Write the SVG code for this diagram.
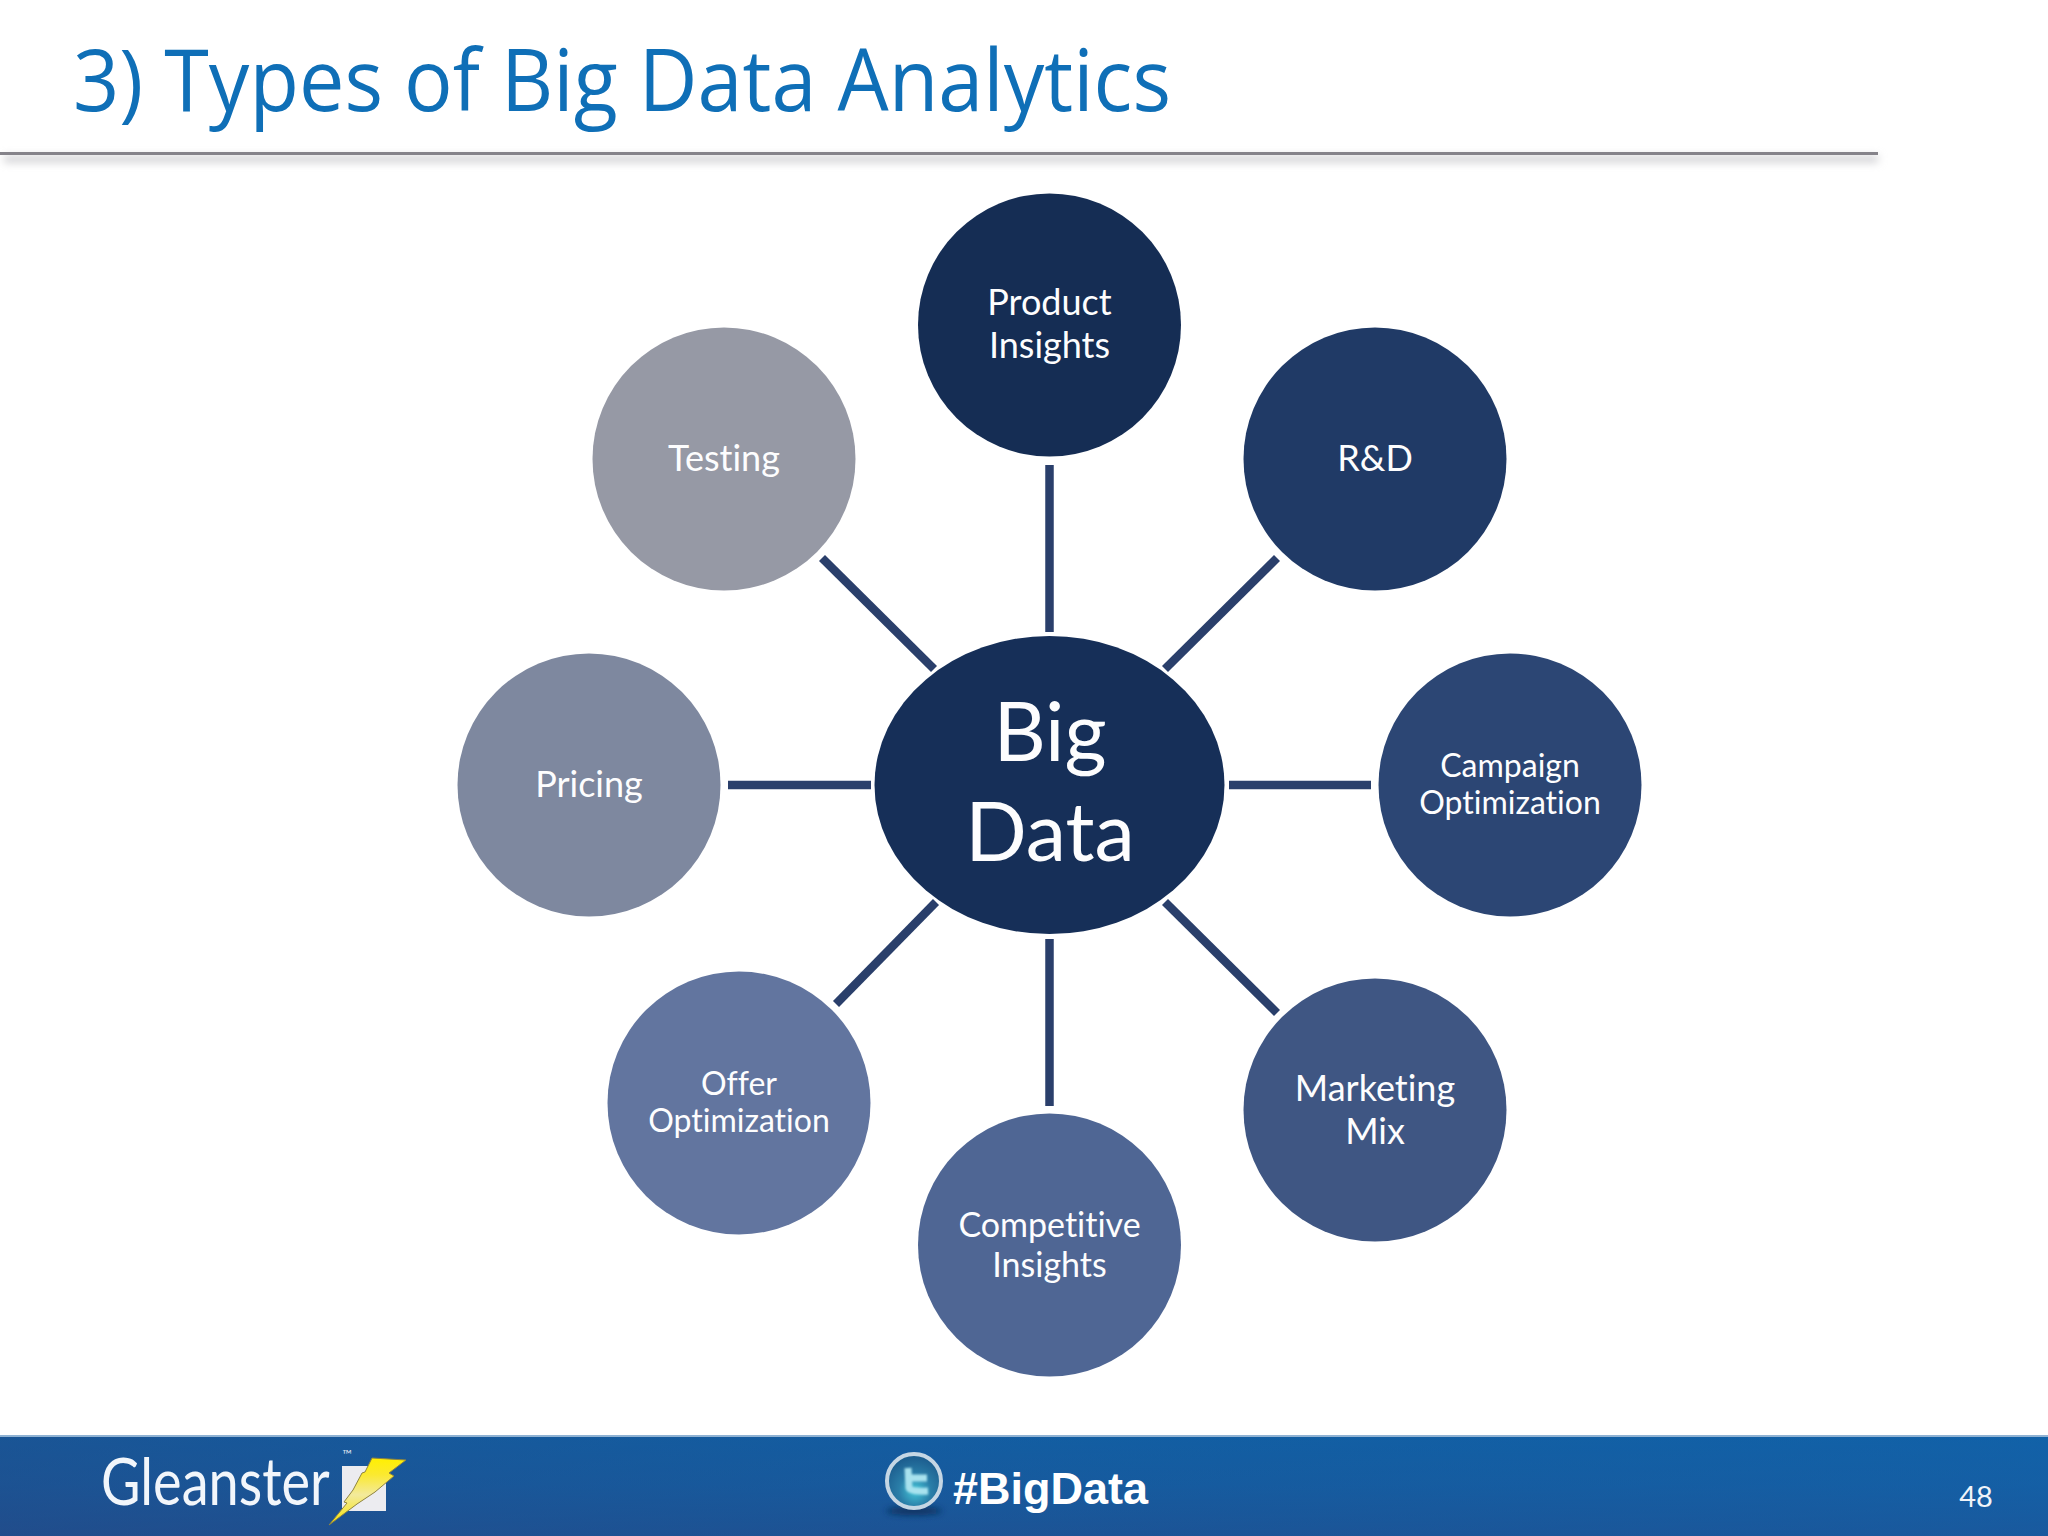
<svg xmlns="http://www.w3.org/2000/svg" width="2048" height="1536" viewBox="0 0 2048 1536">
<style>
text{font-family:"Lato","Open Sans","Liberation Sans",sans-serif;text-anchor:middle;fill:#fdfdfe;font-variant-ligatures:none}
.n{font-size:36px}
.s{font-size:32px}
.h{font-size:81px}
.c{stroke:#2a3f6b;stroke-width:8.5;fill:none}
</style>
<defs>
<linearGradient id="foot" x1="0" y1="0" x2="0" y2="1"><stop offset="0" stop-color="#145a9c"/><stop offset="0.5" stop-color="#1a5596"/><stop offset="1" stop-color="#234a88"/></linearGradient>
<linearGradient id="foot2" x1="0" y1="0" x2="1" y2="0"><stop offset="0" stop-color="#1f4f8e" stop-opacity=".5"/><stop offset="0.55" stop-color="#0f65ae" stop-opacity=".35"/><stop offset="1" stop-color="#0f69b4" stop-opacity=".5"/></linearGradient>
<linearGradient id="bolt" x1="0" y1="0" x2="0" y2="1"><stop offset="0" stop-color="#fff000"/><stop offset="0.25" stop-color="#fbe930"/><stop offset="0.55" stop-color="#f3ea9c"/><stop offset="1" stop-color="#f7e400"/></linearGradient>
<radialGradient id="tw" cx=".52" cy=".68" r=".6"><stop offset="0" stop-color="#46c6d8"/><stop offset="0.5" stop-color="#2a7ea8"/><stop offset="1" stop-color="#1d5f90"/></radialGradient>
<filter id="blur" x="-5%" y="-400%" width="110%" height="900%"><feGaussianBlur stdDeviation="4"/></filter>
<filter id="b2" x="-30%" y="-100%" width="160%" height="300%"><feGaussianBlur stdDeviation="3"/></filter>
<filter id="b1" x="-30%" y="-30%" width="160%" height="160%"><feGaussianBlur stdDeviation="1.2"/></filter>
</defs>
<rect width="2048" height="1536" fill="#fff"/>
<g id="header">
<rect x="4" y="156" width="1874" height="6" fill="#c8c8cc" filter="url(#blur)"/>
<rect x="0" y="152" width="1878" height="3" fill="#85838a"/>
<text x="73" y="111" style="text-anchor:start;fill:#0f6fb7;font-size:86px;font-family:'Open Sans',sans-serif" textLength="1098" lengthAdjust="spacingAndGlyphs">3) Types of Big Data Analytics</text>
</g>
<g id="connectors">
<line class="c" x1="1049.5" y1="465" x2="1049.5" y2="632"/>
<line class="c" x1="1049.5" y1="939" x2="1049.5" y2="1106"/>
<line class="c" x1="728" y1="785" x2="871" y2="785"/>
<line class="c" x1="1229" y1="785" x2="1371" y2="785"/>
<line class="c" x1="1165" y1="669" x2="1277" y2="558"/>
<line class="c" x1="1165" y1="902" x2="1277" y2="1013"/>
<line class="c" x1="936" y1="902" x2="836" y2="1004"/>
<line class="c" x1="934" y1="669" x2="822" y2="558"/>
</g>
<g id="center"><ellipse cx="1049.5" cy="785" rx="175" ry="149" fill="#162f58"/>
<text class="h" x="1050" y="761">Big</text><text class="h" x="1050" y="861">Data</text></g>
<g id="product"><circle cx="1049.5" cy="325" r="131.5" fill="#152d54"/><text class="n" x="1049.5" y="314.5">Product</text><text class="n" x="1049.5" y="358">Insights</text></g>
<g id="rd"><circle cx="1375" cy="459" r="131.5" fill="#203a66"/><text class="n" x="1375" y="471">R&amp;D</text></g>
<g id="campaign"><circle cx="1510" cy="785" r="131.5" fill="#2c4674"/><text class="s" x="1510" y="777">Campaign</text><text class="s" x="1510" y="814">Optimization</text></g>
<g id="marketing"><circle cx="1375" cy="1110" r="131.5" fill="#3f5683"/><text class="n" x="1375" y="1101">Marketing</text><text class="n" x="1375" y="1144">Mix</text></g>
<g id="competitive"><circle cx="1049.5" cy="1245" r="131.5" fill="#4f6694"/><text class="n" x="1049.5" y="1237" style="font-size:34px">Competitive</text><text class="n" x="1049.5" y="1277" style="font-size:34px">Insights</text></g>
<g id="offer"><circle cx="739" cy="1103" r="131.5" fill="#62759f"/><text class="s" x="739" y="1095">Offer</text><text class="s" x="739" y="1132">Optimization</text></g>
<g id="pricing"><circle cx="589" cy="785" r="131.5" fill="#7e889f"/><text class="n" x="589" y="797">Pricing</text></g>
<g id="testing"><circle cx="724" cy="459" r="131.5" fill="#9699a5"/><text class="n" x="724" y="471">Testing</text></g>
<g id="footer">
<rect y="1436" width="2048" height="100" fill="url(#foot)"/>
<rect y="1436" width="2048" height="100" fill="url(#foot2)"/>
<rect y="1435" width="2048" height="2" fill="#8fb2d3"/>
<text transform="translate(101 1505) scale(.82 1)" style="text-anchor:start;font-size:66px;fill:#f2f6fb">Gleanster</text>
<text x="342" y="1459" style="text-anchor:start;font-size:13px;fill:#d5dfeb">™</text>
<rect x="342" y="1466" width="44" height="45" fill="#ececf0"/>
<polygon points="372,1458 406,1460 389,1473 394,1476 375,1492 357,1504 329,1525 347,1503 344,1502 353,1490 362,1473 365,1472" fill="url(#bolt)" stroke="#8f8440" stroke-width="1"/>
<ellipse cx="914" cy="1511" rx="28" ry="4" fill="#10305f" filter="url(#b2)"/>
<circle cx="914" cy="1481" r="27" fill="url(#tw)" stroke="#c5d6e4" stroke-width="4"/>
<path d="M908 1468 L909 1488 Q910 1492 928 1491 M909 1478 L927 1478" fill="none" stroke="#a8e2ee" stroke-width="7" filter="url(#b1)"/>
<text x="953" y="1504" style="text-anchor:start;font-family:'Liberation Sans',sans-serif;font-weight:700;font-size:45px;fill:#fff" textLength="195">#BigData</text>
<text x="1976" y="1507" style="font-size:29px;fill:#f0f4f9">48</text>
</g>
</svg>
